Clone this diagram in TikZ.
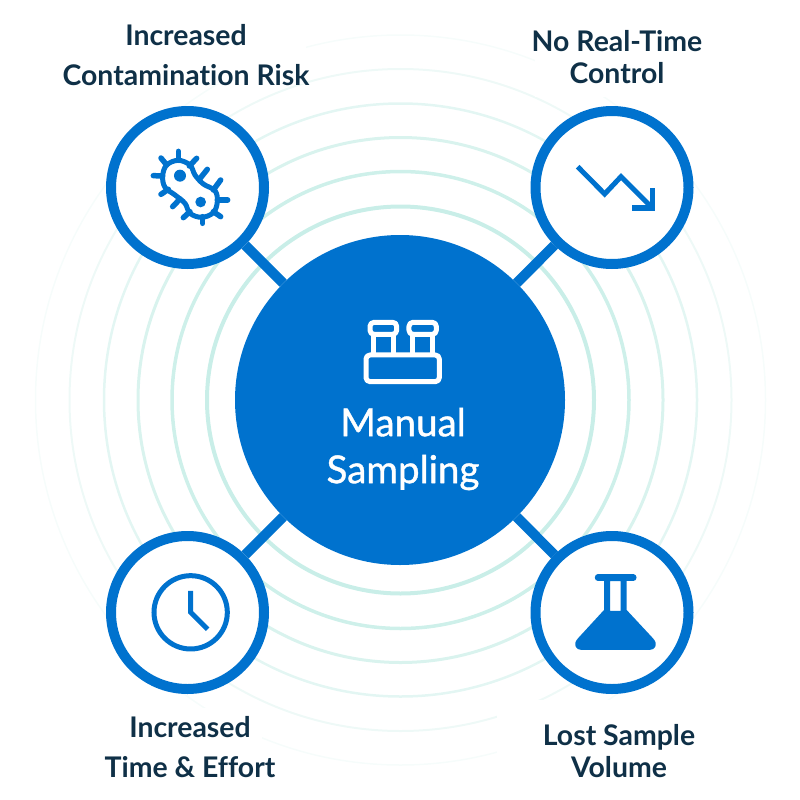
\documentclass[tikz,border=0pt]{standalone}
\usepackage{fontspec}
\setmainfont{Lato}[Ligatures=NoCommon]
\newfontfamily\hubfont{Lato}[Ligatures=NoCommon,FakeBold=1]
\definecolor{sampblue}{HTML}{0072CE}
\definecolor{labelink}{HTML}{0F3047}
\definecolor{ringa}{HTML}{C9EEE8}
\definecolor{ringb}{HTML}{CEF0EA}
\definecolor{ringc}{HTML}{D9F3EE}
\definecolor{ringd}{HTML}{E3F6F3}
\definecolor{ringe}{HTML}{EEF9F7}
\definecolor{ringf}{HTML}{F6FCFB}
\tikzset{
	riskcircle/.style={circle,draw=sampblue,fill=white,line width=10pt,minimum size=153pt,inner sep=0pt},
	risklabel/.style={text=labelink,align=center,inner sep=0pt,font=\fontsize{28.4}{#1}\selectfont\bfseries},
	iconline/.style={draw=sampblue,line width=5pt,miter limit=10},
}
\begin{document}
\begin{tikzpicture}[x=1pt,y=-1pt,line join=round]
	\useasboundingbox (0,0) rectangle (800,800);
	% rings
	\foreach \rad/\col/\wid in {365/ringf/1.5,331/ringe/2,296.5/ringd/2.5,262.5/ringc/3,228.5/ringb/3.5,193.5/ringa/4}
		\draw[\col,line width=\wid pt] (400.5,400) circle[radius=\rad];
	% clear the rings behind the labels
	\fill[white] (0,0) rectangle (306,84);
	\fill[white] (535,0) rectangle (800,97);
	\fill[white] (497,700) rectangle (800,800);
	\fill[white] (0,708) rectangle (262,800);
	% hub and the four risks
	\node[circle,fill=sampblue,minimum size=330pt,inner sep=0pt] (hub) at (400,400) {};
	\node[riskcircle] (germ) at (187.5,187.5) {};
	\node[riskcircle] (trend) at (612,187.5) {};
	\node[riskcircle] (clock) at (187.5,612.5) {};
	\node[riskcircle] (flask) at (612,612.5) {};
	\foreach \risk in {germ,trend,clock,flask}
		\draw[sampblue,line width=10pt] (hub) -- (\risk);
	% labels
	\node[risklabel=40] (germtext) at (186,55) {Increased\\Contamination Risk};
	\node[risklabel=32] (trendtext) at (617,57) {No Real-Time\\Control};
	\node[risklabel=40] (clocktext) at (190,747) {Increased\\Time \& Effort};
	\node[risklabel=32] (flasktext) at (619,751) {Lost Sample\\Volume};
	\node[text=white,align=center,inner sep=0pt,font=\hubfont\fontsize{38.5}{47}\selectfont] (hubtext) at (403,449) {Manual\\Sampling};
	% rack
	\begin{scope}[shift={(330,300)},x=0.3333pt,y=-0.3333pt,white,line width=5pt]
		\draw[rounded corners=4pt] (108,165) rectangle (328,245);
		\draw[rounded corners=4pt] (120,67) rectangle (200,103);
		\draw[rounded corners=4pt] (237,67) rectangle (319,103);
		\draw (130,103) -- (130,165) (190,103) -- (190,165);
		\draw (247,103) -- (247,165) (308,103) -- (308,165);
	\end{scope}
	% bacterium
	\begin{scope}[shift={(100,100)},x=0.3333pt,y=-0.3333pt]
		\draw[iconline] plot[smooth cycle,tension=0.6] coordinates {(235,181) (270,195) (285,225) (310,252) (345,272) (352,305) (340,338) (305,352) (270,340) (255,310) (225,285) (195,262) (188,228) (200,195)};
		\foreach \xa/\ya/\xb/\yb in {235/154/235/181,183/174/200/195,160/227/188/228,183/283/205/268,218/320/240/297,250/353/270/335,308/370/308/350,362/350/340/335,383/300/352/300,362/240/340/270,322/208/298/238,290/175/268/198}
			\draw[iconline,line cap=round,line width=5.5pt] (\xa,\ya) -- (\xb,\yb);
		\fill[sampblue] (240,227) circle[radius=18];
		\fill[sampblue] (302,306) circle[radius=16];
	\end{scope}
	% falling trend
	\begin{scope}[shift={(530,120)},x=0.3333pt,y=-0.3333pt,line join=miter]
		\draw[iconline] (143,140) -- (224,222) -- (273,170) -- (368,265);
		\draw[iconline,line width=5.5pt] (307,264) -- (367,264) -- (367,205);
	\end{scope}
	% clock
	\begin{scope}[shift={(100,520)},x=0.3333pt,y=-0.3333pt,line join=miter]
		\draw[iconline] (272,277) circle[radius=110];
		\draw[iconline] (272,213) -- (272,277) -- (323,328);
	\end{scope}
	% flask
	\begin{scope}[shift={(530,530)},x=0.3333pt,y=-0.3333pt]
		\fill[sampblue,even odd rule] (222,143) -- (222,240) -- (143,326) .. controls (128,343) and (137,360) .. (155,360) -- (358,360) .. controls (376,360) and (385,343) .. (370,326) -- (290,240) -- (290,143) -- cycle (240,153) rectangle (272,243);
		\draw[sampblue,line width=6.5pt,line cap=round] (204,143) -- (310,143);
	\end{scope}
\end{tikzpicture}
\end{document}
